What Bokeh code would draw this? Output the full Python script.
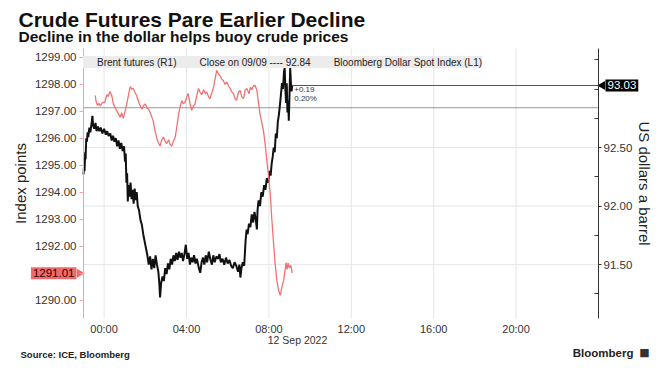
import math
import pandas as pd
from bokeh.plotting import figure
from bokeh.models import (Range1d, LinearAxis, FixedTicker, NumeralTickFormatter,
                          DatetimeTickFormatter, Label, Legend, LegendItem)
from bokeh.embed import file_html
from bokeh.resources import INLINE

# ---------------- data ----------------
brent_time = [
    "11 23:00", "11 23:02", "11 23:03", "11 23:05", "11 23:06", "11 23:08", "11 23:10", "11 23:12",
    "11 23:14", "11 23:17", "11 23:20", "11 23:24", "11 23:26", "11 23:28", "11 23:31", "11 23:35",
    "11 23:38", "11 23:42", "11 23:46", "11 23:50", "11 23:55",
    "12 00:00", "12 00:05", "12 00:09", "12 00:13", "12 00:18", "12 00:22", "12 00:26", "12 00:30",
    "12 00:34", "12 00:38", "12 00:42", "12 00:46", "12 00:50", "12 00:54", "12 00:58", "12 01:01",
    "12 01:03", "12 01:05", "12 01:07", "12 01:09", "12 01:11", "12 01:14", "12 01:17", "12 01:20",
    "12 01:23", "12 01:26", "12 01:29", "12 01:32", "12 01:35", "12 01:38", "12 01:42", "12 01:46",
    "12 01:50", "12 01:54", "12 01:58", "12 02:02", "12 02:06", "12 02:10", "12 02:14", "12 02:18",
    "12 02:22", "12 02:26", "12 02:30", "12 02:34", "12 02:38", "12 02:41", "12 02:43", "12 02:46",
    "12 02:50", "12 02:54", "12 02:58", "12 03:02", "12 03:06", "12 03:10", "12 03:14", "12 03:18",
    "12 03:22", "12 03:26", "12 03:30", "12 03:34", "12 03:38", "12 03:42", "12 03:46", "12 03:50",
    "12 03:54", "12 03:58", "12 04:02", "12 04:06", "12 04:10", "12 04:14", "12 04:18", "12 04:22",
    "12 04:26", "12 04:30", "12 04:36", "12 04:40", "12 04:44", "12 04:48", "12 04:52", "12 04:56",
    "12 05:00", "12 05:05", "12 05:10", "12 05:14", "12 05:18", "12 05:22", "12 05:27", "12 05:32",
    "12 05:36", "12 05:40", "12 05:45", "12 05:50", "12 05:55", "12 06:00", "12 06:05", "12 06:10",
    "12 06:15", "12 06:20", "12 06:25", "12 06:30", "12 06:34", "12 06:37", "12 06:40", "12 06:44",
    "12 06:48", "12 06:52", "12 06:55", "12 06:58", "12 07:02", "12 07:06", "12 07:10", "12 07:14",
    "12 07:18", "12 07:22", "12 07:25", "12 07:27", "12 07:30", "12 07:34", "12 07:38", "12 07:42",
    "12 07:46", "12 07:50", "12 07:54", "12 07:58", "12 08:02", "12 08:05", "12 08:08", "12 08:11",
    "12 08:14", "12 08:17", "12 08:20", "12 08:23", "12 08:26", "12 08:29", "12 08:32", "12 08:35",
    "12 08:38", "12 08:41", "12 08:44", "12 08:46", "12 08:48", "12 08:50", "12 08:52", "12 08:54",
    "12 08:56", "12 08:58", "12 09:00", "12 09:02", "12 09:04", "12 09:06", "12 09:08",
]
brent_price = [
    92.27, 92.36, 92.30, 92.46, 92.40, 92.58, 92.55, 92.63,
    92.59, 92.67, 92.63, 92.72, 92.77, 92.69, 92.66, 92.71,
    92.64, 92.68, 92.64, 92.67, 92.62,
    92.66, 92.61, 92.64, 92.60, 92.62, 92.56, 92.60, 92.55,
    92.58, 92.51, 92.56, 92.49, 92.54, 92.47, 92.51, 92.38,
    92.45, 92.20, 92.28, 92.04, 92.18, 92.08, 92.20, 92.06,
    92.14, 92.02, 92.15, 92.05, 92.12, 92.00, 91.96, 91.88,
    91.84, 91.76, 91.70, 91.64, 91.58, 91.50, 91.57, 91.46,
    91.55, 91.47, 91.58, 91.50, 91.44, 91.33, 91.22, 91.34,
    91.40, 91.36, 91.47, 91.42, 91.51, 91.46, 91.55, 91.50,
    91.58, 91.53, 91.60, 91.54, 91.61, 91.56, 91.60, 91.53,
    91.59, 91.67, 91.55, 91.60, 91.50, 91.56, 91.52, 91.58,
    91.51, 91.55, 91.47, 91.43, 91.52, 91.56, 91.50, 91.58,
    91.52, 91.61, 91.54, 91.50, 91.58, 91.52, 91.57, 91.55,
    91.59, 91.52, 91.55, 91.50, 91.56, 91.51, 91.54, 91.49,
    91.47, 91.52, 91.49, 91.44, 91.50, 91.39, 91.47, 91.52,
    91.49, 91.70, 91.80, 91.76, 91.85, 91.82, 91.93, 91.86,
    91.95, 91.88, 91.80, 91.97, 92.05, 92.00, 92.12, 92.08,
    92.18, 92.14, 92.24, 92.20, 92.30, 92.26, 92.36, 92.42,
    92.50, 92.46, 92.62, 92.58, 92.72, 92.78, 92.86, 92.95,
    93.05, 93.00, 93.15, 93.18, 93.00, 92.88, 93.05, 92.80,
    92.90, 92.73, 92.95, 93.18, 93.06, 92.98, 93.03,
]

dxy_time = [
    "11 23:34", "11 23:37", "11 23:41", "11 23:45", "11 23:49", "11 23:55", "12 00:02", "12 00:08",
    "12 00:12", "12 00:17", "12 00:22", "12 00:27", "12 00:32", "12 00:37", "12 00:42", "12 00:47",
    "12 00:51", "12 00:56", "12 01:01", "12 01:06", "12 01:11", "12 01:16", "12 01:20", "12 01:25",
    "12 01:30", "12 01:35", "12 01:42", "12 01:50", "12 01:55", "12 02:00", "12 02:05", "12 02:09",
    "12 02:16", "12 02:23", "12 02:28", "12 02:34", "12 02:38", "12 02:43", "12 02:48", "12 02:53",
    "12 02:58", "12 03:02", "12 03:08", "12 03:12", "12 03:17", "12 03:22", "12 03:27", "12 03:32",
    "12 03:37", "12 03:42", "12 03:46", "12 03:51", "12 03:56", "12 04:01", "12 04:05", "12 04:10",
    "12 04:15", "12 04:20", "12 04:25", "12 04:30", "12 04:35", "12 04:40", "12 04:44", "12 04:50",
    "12 04:55", "12 04:59", "12 05:04", "12 05:08", "12 05:14", "12 05:19", "12 05:24", "12 05:28",
    "12 05:33", "12 05:38", "12 05:43", "12 05:47", "12 05:52", "12 05:57", "12 06:02", "12 06:07",
    "12 06:12", "12 06:17", "12 06:22", "12 06:26", "12 06:31", "12 06:36", "12 06:41", "12 06:46",
    "12 06:51", "12 06:56", "12 07:02", "12 07:06", "12 07:10", "12 07:15", "12 07:20", "12 07:25",
    "12 07:30", "12 07:34", "12 07:39", "12 07:44", "12 07:49", "12 07:54", "12 07:59", "12 08:04",
    "12 08:08", "12 08:13", "12 08:18", "12 08:23", "12 08:28", "12 08:33", "12 08:38", "12 08:43",
    "12 08:47", "12 08:50", "12 08:53", "12 08:56", "12 09:00", "12 09:04", "12 09:08",
]
dxy_value = [
    1297.59, 1297.35, 1297.22, 1297.30, 1297.20, 1297.33, 1297.34, 1297.62,
    1297.55, 1297.74, 1297.60, 1297.28, 1297.15, 1297.02, 1296.90, 1296.78,
    1296.95, 1296.74, 1297.00, 1297.28, 1297.60, 1297.92, 1297.82, 1297.86,
    1297.70, 1297.58, 1297.30, 1297.08, 1297.22, 1297.28, 1297.12, 1297.10,
    1296.90, 1296.65, 1296.30, 1295.98, 1295.85, 1295.72, 1295.95, 1296.05,
    1295.90, 1295.80, 1295.95, 1295.78, 1295.72, 1295.90, 1296.04, 1296.45,
    1296.90, 1297.20, 1297.40, 1297.28, 1297.35, 1297.55, 1297.66, 1297.30,
    1297.04, 1297.20, 1297.28, 1297.60, 1297.85, 1297.70, 1297.62, 1297.80,
    1297.65, 1297.72, 1297.55, 1297.47, 1297.70, 1297.90, 1298.25, 1298.52,
    1298.38, 1298.32, 1298.18, 1298.15, 1298.00, 1298.09, 1297.95, 1297.85,
    1297.72, 1297.66, 1297.45, 1297.41, 1297.70, 1297.78, 1297.55, 1297.47,
    1297.80, 1297.85, 1297.65, 1297.90, 1297.80, 1297.95, 1297.96, 1297.78,
    1297.30, 1296.91, 1296.60, 1296.30, 1295.80, 1295.19, 1294.60, 1293.96,
    1293.10, 1292.22, 1291.40, 1290.74, 1290.40, 1290.19, 1290.50, 1290.74,
    1291.10, 1291.40, 1291.15, 1291.38, 1291.20, 1291.30, 1291.01,
]

prev_close = 92.84
x_tick_hours = [0, 4, 8, 12, 16, 20]
left_ticks = [1290, 1292, 1293, 1294, 1295, 1296, 1297, 1298, 1299]
left_minor = [1291]
right_ticks = [91.5, 92.0, 92.5]
right_minor = [91.25, 91.75, 92.25, 92.75, 93.0, 93.25]
left_range = (1289.33, 1299.33)
right_range = (91.04, 93.346)
x_window = ("2022-09-11 23:00", "2022-09-13 00:00")

# ---------------- layout (pixels) ----------------
W, H = 667, 370
PL, PR, PT, PB = 83, 598, 48, 318   # plotting window inside the canvas

def to_dt(lst):
    return pd.to_datetime(["2022-09-" + s for s in lst], format="%Y-%m-%d %H:%M")

def ms(ts):
    return pd.Timestamp(ts).value / 1e6

bt = to_dt(brent_time)
dt = to_dt(dxy_time)
x0, x1 = ms(x_window[0]), ms(x_window[1])
xt = [ms("2022-09-12 %02d:00" % h) for h in x_tick_hours]

# the frame covers the whole canvas; axes are pinned at the window edges
kx = (x1 - x0) / (PR - PL)
kl = (left_range[1] - left_range[0]) / (PB - PT)
kr = (right_range[1] - right_range[0]) / (PB - PT)
full_x = (x0 - PL * kx, x1 + (W - PR) * kx)
full_l = (left_range[0] - (H - PB) * kl, left_range[1] + PT * kl)
full_r = (right_range[0] - (H - PB) * kr, right_range[1] + PT * kr)

TXT = "Liberation Sans"

p = figure(width=W, height=H, x_axis_type="datetime", title=None,
           output_backend="svg", toolbar_location=None,
           x_range=Range1d(*full_x), y_range=Range1d(*full_l),
           min_border=0, min_border_left=0, min_border_right=0,
           min_border_top=0, min_border_bottom=0)
p.extra_y_ranges = {"right": Range1d(*full_r)}
p.outline_line_color = None
p.background_fill_color = "white"
p.border_fill_color = "white"
p.xgrid.visible = False
p.ygrid.visible = False

# x axis
xa = p.xaxis[0]
xa.fixed_location = left_range[0]
xa.bounds = (x0, x1)
xa.ticker = FixedTicker(ticks=xt)
xa.formatter = DatetimeTickFormatter(hours="%H:%M", hourmin="%H:%M", days="%H:%M", minutes="%H:%M")
xa.axis_line_color = None
xa.major_tick_line_color = None
xa.minor_tick_line_color = None
xa.major_tick_in = 0
xa.major_tick_out = 0
xa.minor_tick_in = 0
xa.minor_tick_out = 0
xa.major_label_text_font = TXT
xa.major_label_text_font_size = "11px"
xa.major_label_text_color = "#333333"
xa.major_label_standoff = 4

# left axis (dollar index)
ya = p.yaxis[0]
ya.fixed_location = x0
ya.bounds = left_range
ya.ticker = FixedTicker(ticks=left_ticks, minor_ticks=left_minor)
ya.formatter = NumeralTickFormatter(format="0.00")
pink = "#f2a3a3"
ya.axis_line_color = pink
ya.major_tick_line_color = pink
ya.minor_tick_line_color = pink
ya.major_tick_in = 0
ya.major_tick_out = 4
ya.minor_tick_in = 0
ya.minor_tick_out = 4
ya.major_label_standoff = 3
ya.major_label_text_font = TXT
ya.major_label_text_font_size = "11.5px"
ya.major_label_text_color = "#333333"
ya.axis_label = "Index points"
ya.axis_label_text_font = TXT
ya.axis_label_text_font_size = "15px"
ya.axis_label_text_font_style = "normal"
ya.axis_label_text_color = "#222222"
ya.axis_label_standoff = 3

# right axis (Brent)
ra = LinearAxis(y_range_name="right", fixed_location=x1, bounds=right_range,
                ticker=FixedTicker(ticks=right_ticks, minor_ticks=right_minor),
                formatter=NumeralTickFormatter(format="0.00"))
ra.axis_line_color = "#333333"
ra.major_tick_line_color = "#333333"
ra.minor_tick_line_color = "#333333"
ra.major_tick_in = 0
ra.major_tick_out = 3
ra.minor_tick_in = 4
ra.minor_tick_out = 0
ra.major_label_standoff = 2
ra.major_label_text_font = TXT
ra.major_label_text_font_size = "11.5px"
ra.major_label_text_color = "#333333"
ra.axis_label = "US dollars a barrel"
ra.axis_label_text_font = TXT
ra.axis_label_text_font_size = "15px"
ra.axis_label_text_font_style = "normal"
ra.axis_label_text_color = "#222222"
ra.axis_label_standoff = 1
p.add_layout(ra, "right")

# grid lines at the tick positions, limited to the plotting window
grid = "#e6e6e6"
p.segment(x0=xt, x1=xt, y0=[left_range[0]] * len(xt), y1=[left_range[1]] * len(xt),
          line_color=grid, line_width=1)
p.segment(x0=[x0] * len(right_ticks), x1=[x1] * len(right_ticks), y0=right_ticks, y1=right_ticks,
          y_range_name="right", line_color=grid, line_width=1)

# previous close dotted line
p.segment(x0=[x0], x1=[x1], y0=[prev_close], y1=[prev_close], y_range_name="right",
          line_color="#333333", line_dash="1 1", line_width=1)

# series
p.line(bt, brent_price, y_range_name="right", line_color="#111111", line_width=2)
p.line(dt, dxy_value, line_color="#f07373", line_width=1.3)

last_t = bt[-1]
last_p = brent_price[-1]
last_ms = last_t.value / 1e6
p.segment(x0=[last_ms], x1=[x1], y0=[last_p], y1=[last_p], y_range_name="right",
          line_color="#555555", line_width=1)

chg = last_p - prev_close
pct = chg / prev_close * 100
p.add_layout(Label(x=last_ms, y=last_p, y_range_name="right", x_offset=2, y_offset=-4,
                   text="+%.2f" % chg, text_font=TXT, text_font_size="8px",
                   text_color="#333333", text_baseline="middle"))
p.add_layout(Label(x=last_ms, y=last_p, y_range_name="right", x_offset=2, y_offset=-13,
                   text="%.2f%%" % pct, text_font=TXT, text_font_size="8px",
                   text_color="#333333", text_baseline="middle"))

# value boxes on the axes, with pointers
p.scatter(x=[x1 + 4 * kx], y=[last_p], y_range_name="right", marker="triangle",
          angle=math.pi / 2, size=9, fill_color="black", line_color=None)
p.add_layout(Label(x=PR + 7, x_units="screen", y=last_p, y_range_name="right",
                   text="%.2f" % last_p, text_font=TXT, text_font_size="11.5px",
                   text_color="white", background_fill_color="black",
                   text_align="left", text_baseline="middle", padding=2))
red_box = "#ef6b6b"
p.scatter(x=[x0 - 4 * kx], y=[dxy_value[-1]], marker="triangle",
          angle=-math.pi / 2, size=9, fill_color=red_box, line_color=None)
p.add_layout(Label(x=PL - 7, x_units="screen", y=dxy_value[-1],
                   text="%.2f" % dxy_value[-1], text_font=TXT, text_font_size="11.5px",
                   text_color="#3a0000", background_fill_color=red_box,
                   text_align="right", text_baseline="middle", padding=2))

# legend
r1 = p.rect(x=[], y=[], width=1, height=1, fill_color="#111111", line_color=None)
r2 = p.rect(x=[], y=[], width=1, height=1, fill_color="#111111", line_color=None)
r3 = p.rect(x=[], y=[], width=1, height=1, fill_color="#ee6464", line_color=None)
legend = Legend(items=[LegendItem(label="Brent futures (R1)", renderers=[r1]),
                       LegendItem(label="Close on 09/09 ---- %.2f" % prev_close, renderers=[r2]),
                       LegendItem(label="Bloomberg Dollar Spot Index (L1)", renderers=[r3])],
                location=(PL, H - PT - 20), orientation="horizontal",
                background_fill_color="#ececec", background_fill_alpha=1,
                border_line_color=None, margin=0, padding=4, spacing=9,
                label_standoff=5, glyph_width=9, glyph_height=9, label_height=12,
                label_text_font=TXT, label_text_font_size="10px", label_text_color="#222222")
p.add_layout(legend)

# titles and footer (screen units: from the canvas bottom-left), y = text centre from top
def text(x, y_mid, s, size, bold=False, color="#111111", align="left", font=TXT):
    p.add_layout(Label(x=x, y=H - y_mid, x_units="screen", y_units="screen", text=s,
                       text_font=font, text_font_size=size,
                       text_font_style="bold" if bold else "normal",
                       text_color=color, text_align=align, text_baseline="middle"))

text(18, 19, "Crude Futures Pare Earlier Decline", "21px", bold=True)
text(18, 35.5, "Decline in the dollar helps buoy crude prices", "15.5px", bold=True)
text(297, 339.5, "12 Sep 2022", "10.5px", color="#333333", align="center")
text(20, 354, "Source: ICE, Bloomberg", "9.5px", bold=True, color="#222222")
text(633, 352.5, "Bloomberg", "11.5px", bold=True, color="#222222", align="right")
text(644, 352, "■", "11px", color="#333333", align="center", font="DejaVu Sans")

open("out.html", "w").write(file_html(p, INLINE))
